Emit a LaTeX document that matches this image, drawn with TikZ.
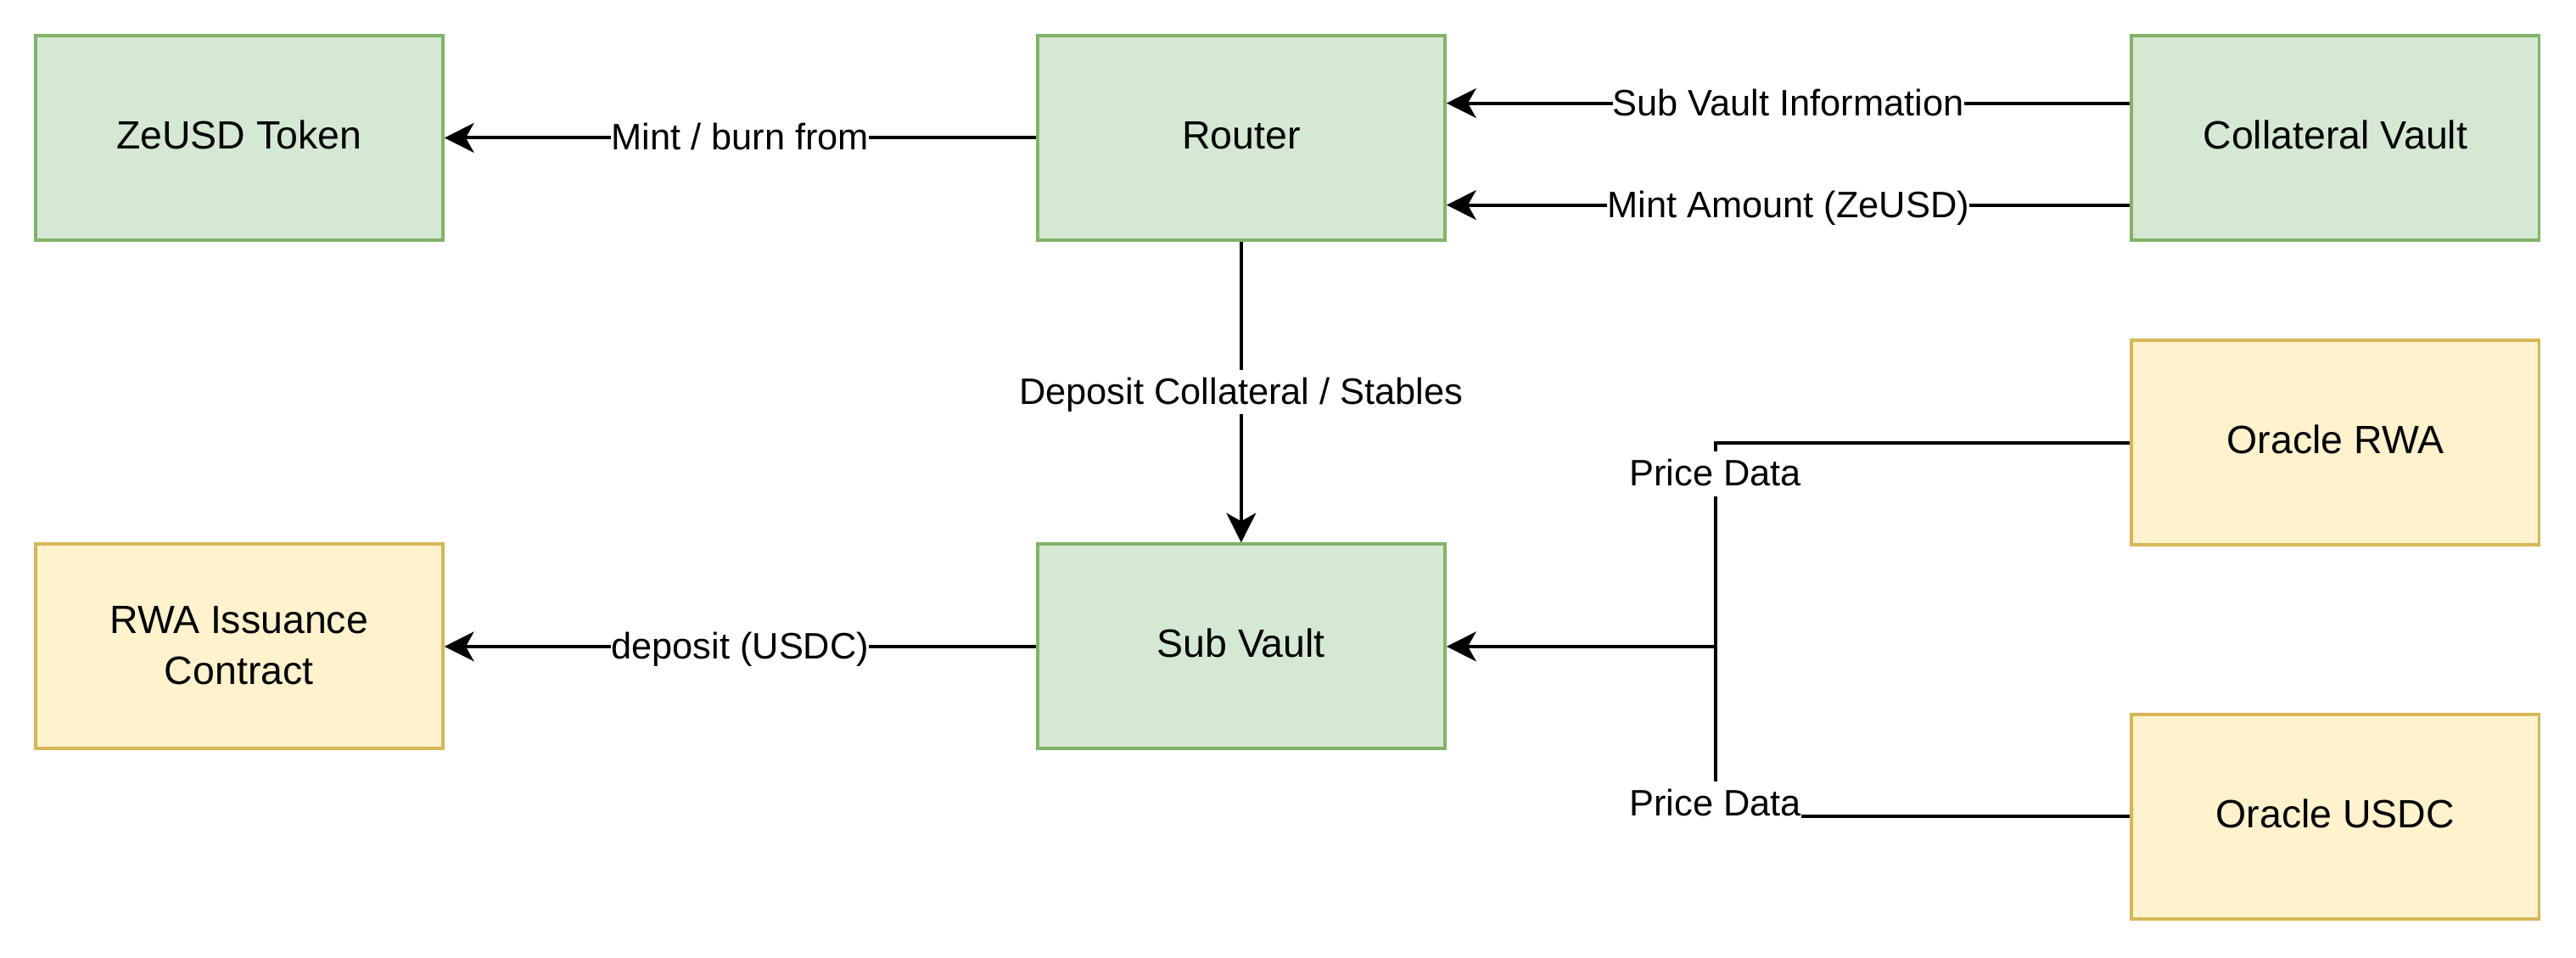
\documentclass[tikz,border=0pt]{standalone}
\usepackage{fontspec}
\setmainfont{Liberation Sans}
\usetikzlibrary{arrows.meta}
\definecolor{gfill}{HTML}{D5E8D4}
\definecolor{gline}{HTML}{82B366}
\definecolor{yfill}{HTML}{FFF2CC}
\definecolor{yline}{HTML}{D6B656}

\begin{document}
\begin{tikzpicture}[x=10pt,y=10pt,line width=2pt,
    >={Stealth[length=18pt,width=18pt,inset=5pt]},
    box/.style={line width=2pt,minimum width=248pt,minimum height=124.5pt,
        align=center,text height=20pt,text depth=6.6pt,
        font=\fontsize{24}{31}\selectfont},
    gbox/.style={box,draw=gline,fill=gfill},
    ybox/.style={box,draw=yline,fill=yfill},
    lbl/.style={fill=white,inner xsep=0pt,inner ysep=1pt,text height=20pt,
        text depth=5pt,font=\fontsize{22.4}{26}\selectfont}]
    \useasboundingbox (0,0) rectangle (156.8,58.26);

    \node[gbox] at (14.55,49.87) (zeusd) {ZeUSD Token};
    \node[gbox] at (75.55,49.87) (router) {Router};
    \node[gbox] at (142.15,49.87) (collat) {Collateral Vault};
    \node[ybox] at (142.15,31.32) (orwa) {Oracle RWA};
    \node[ybox,text height=50pt,text depth=3.6pt] at (14.55,18.91) (rwa) {RWA Issuance\\Contract};
    \node[gbox] at (75.55,18.91) (subv) {Sub Vault};
    \node[ybox] at (142.15,8.56) (ousdc) {Oracle USDC};
    \coordinate (jn) at (104.41,18.91);

    \path[->] (router) edge node[lbl] {Mint / burn from} (zeusd);
    \path[->] ([yshift=21.1pt]collat.west) edge node[lbl] {Sub Vault Information} ([yshift=21.1pt]router.east);
    \path[->] ([yshift=-40.9pt]collat.west) edge node[lbl] {Mint Amount (ZeUSD)} ([yshift=-40.9pt]router.east);
    \path[->] (router) edge node[lbl] {Deposit Collateral / Stables} (subv);
    \path[->] (subv) edge node[lbl] {deposit (USDC)} (rwa);

    \draw (orwa.west) -| (jn);
    \draw (ousdc.west) -| (jn);
    \draw[->] (jn) -- (subv.east);
    \node[lbl] at (104.41,29.42) (pd1) {Price Data};
    \node[lbl] at (104.41,9.34) (pd2) {Price Data};
\end{tikzpicture}
\end{document}
